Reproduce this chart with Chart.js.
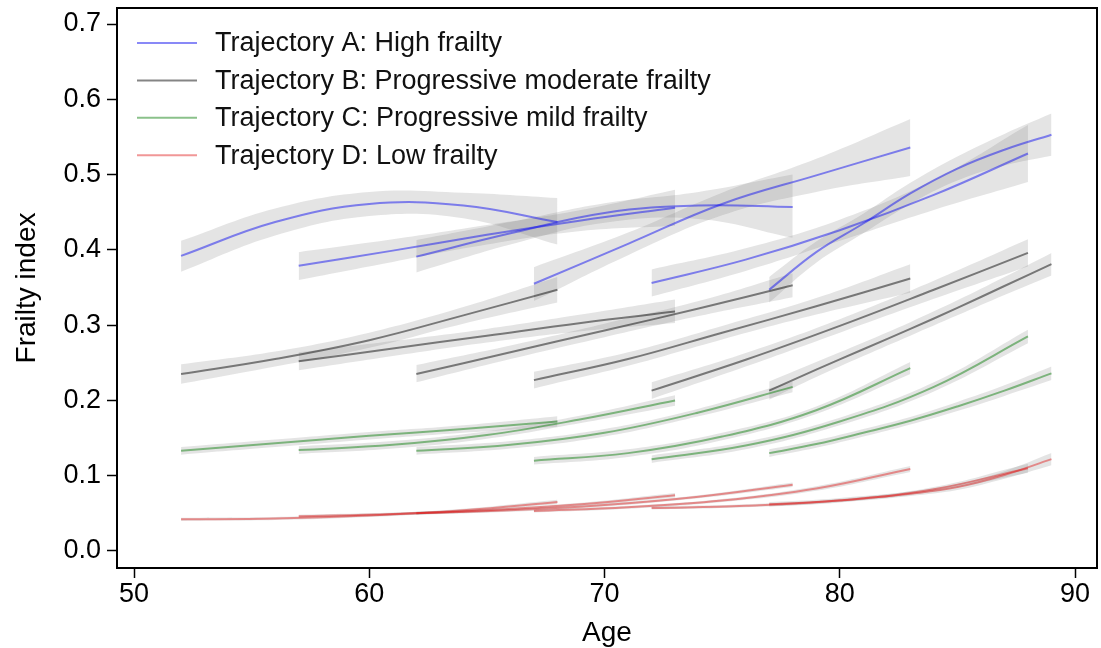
<!DOCTYPE html>
<html>
<head>
<meta charset="utf-8">
<script src="https://cdn.jsdelivr.net/npm/chart.js@4.4.1/dist/chart.umd.min.js"></script>
<style>
  html, body { margin: 0; padding: 0; background: #fff; }
  canvas { display: block; }
</style>
</head>
<body>
<canvas id="frailtyChart" width="1101" height="648"></canvas>
<script>
const cohortAges = [
    [52, 56, 60, 64, 68],
    [57, 61, 65, 69, 73],
    [62, 66, 70, 74, 78],
    [67, 71, 75, 79, 83],
    [72, 76, 80, 84, 88],
    [77, 79, 81, 83, 85, 87, 89]
];

const legendLabels = [
    'Trajectory A: High frailty',
    'Trajectory B: Progressive moderate frailty',
    'Trajectory C: Progressive mild frailty',
    'Trajectory D: Low frailty'
];

const xTicks = [50, 60, 70, 80, 90];
const yTicks = [0, 0.1, 0.2, 0.3, 0.4, 0.5, 0.6, 0.7];

// Trajectory A
const meanA = [
    [0.392, 0.437, 0.461, 0.459, 0.437],
    [0.379, 0.399, 0.420, 0.439, 0.456],
    [0.391, 0.422, 0.449, 0.459, 0.457],
    [0.355, 0.408, 0.461, 0.499, 0.536],
    [0.356, 0.387, 0.426, 0.473, 0.528],
    [0.347, 0.397, 0.435, 0.475, 0.508, 0.533, 0.553]
];
const lowA = [
    [0.371, 0.419, 0.445, 0.442, 0.407],
    [0.360, 0.384, 0.407, 0.425, 0.432],
    [0.370, 0.407, 0.436, 0.441, 0.416],
    [0.332, 0.393, 0.446, 0.477, 0.498],
    [0.338, 0.372, 0.412, 0.453, 0.490],
    [0.330, 0.383, 0.422, 0.461, 0.492, 0.512, 0.525]
];
const highA = [
    [0.412, 0.455, 0.477, 0.476, 0.469],
    [0.397, 0.414, 0.433, 0.453, 0.480],
    [0.413, 0.437, 0.462, 0.477, 0.500],
    [0.377, 0.423, 0.476, 0.521, 0.574],
    [0.374, 0.402, 0.440, 0.493, 0.566],
    [0.364, 0.411, 0.448, 0.489, 0.524, 0.554, 0.581]
];

// Trajectory B
const meanB = [
    [0.235, 0.255, 0.280, 0.313, 0.347],
    [0.252, 0.269, 0.286, 0.303, 0.318],
    [0.235, 0.264, 0.293, 0.322, 0.353],
    [0.227, 0.255, 0.290, 0.325, 0.362],
    [0.213, 0.254, 0.299, 0.347, 0.396],
    [0.213, 0.241, 0.268, 0.295, 0.323, 0.352, 0.381]
];
const lowB = [
    [0.222, 0.245, 0.270, 0.302, 0.330],
    [0.240, 0.259, 0.277, 0.292, 0.303],
    [0.224, 0.255, 0.284, 0.312, 0.337],
    [0.216, 0.246, 0.281, 0.314, 0.343],
    [0.202, 0.245, 0.290, 0.335, 0.378],
    [0.201, 0.231, 0.259, 0.286, 0.313, 0.340, 0.366]
];
const highB = [
    [0.248, 0.265, 0.290, 0.324, 0.364],
    [0.264, 0.279, 0.295, 0.314, 0.334],
    [0.247, 0.273, 0.302, 0.332, 0.369],
    [0.238, 0.264, 0.299, 0.336, 0.381],
    [0.224, 0.263, 0.308, 0.359, 0.414],
    [0.225, 0.251, 0.277, 0.304, 0.333, 0.364, 0.396]
];

// Trajectory C
const meanC = [
    [0.133, 0.143, 0.153, 0.162, 0.172],
    [0.134, 0.141, 0.154, 0.175, 0.200],
    [0.133, 0.141, 0.157, 0.184, 0.218],
    [0.120, 0.130, 0.152, 0.187, 0.243],
    [0.122, 0.140, 0.172, 0.218, 0.285],
    [0.130, 0.142, 0.157, 0.173, 0.192, 0.213, 0.236]
];
const lowC = [
    [0.128, 0.138, 0.148, 0.157, 0.165],
    [0.129, 0.136, 0.149, 0.170, 0.193],
    [0.128, 0.136, 0.152, 0.179, 0.211],
    [0.115, 0.125, 0.147, 0.182, 0.235],
    [0.117, 0.135, 0.167, 0.212, 0.276],
    [0.125, 0.137, 0.152, 0.168, 0.186, 0.206, 0.227]
];
const highC = [
    [0.138, 0.148, 0.158, 0.167, 0.179],
    [0.139, 0.146, 0.159, 0.180, 0.207],
    [0.138, 0.146, 0.162, 0.189, 0.225],
    [0.125, 0.135, 0.157, 0.192, 0.251],
    [0.127, 0.145, 0.177, 0.224, 0.294],
    [0.135, 0.147, 0.162, 0.178, 0.198, 0.220, 0.245]
];

// Trajectory D
const meanD = [
    [0.042, 0.043, 0.047, 0.054, 0.065],
    [0.046, 0.049, 0.054, 0.062, 0.074],
    [0.050, 0.054, 0.061, 0.072, 0.088],
    [0.053, 0.058, 0.067, 0.083, 0.109],
    [0.057, 0.060, 0.067, 0.082, 0.110],
    [0.062, 0.065, 0.070, 0.076, 0.085, 0.101, 0.122]
];
const lowD = [
    [0.040, 0.041, 0.045, 0.052, 0.062],
    [0.044, 0.047, 0.052, 0.060, 0.071],
    [0.048, 0.052, 0.059, 0.070, 0.085],
    [0.051, 0.056, 0.065, 0.080, 0.105],
    [0.055, 0.058, 0.065, 0.079, 0.104],
    [0.059, 0.062, 0.067, 0.073, 0.081, 0.096, 0.114]
];
const highD = [
    [0.044, 0.045, 0.049, 0.056, 0.068],
    [0.048, 0.051, 0.056, 0.064, 0.077],
    [0.052, 0.056, 0.063, 0.074, 0.091],
    [0.055, 0.060, 0.069, 0.086, 0.113],
    [0.059, 0.062, 0.069, 0.085, 0.116],
    [0.065, 0.068, 0.073, 0.079, 0.089, 0.106, 0.130]
];

const lineColors = [
    'rgba(20, 20, 240, 0.5)',
    'rgba(0, 0, 0, 0.48)',
    'rgba(0, 120, 0, 0.46)',
    'rgba(225, 25, 25, 0.45)'
];
const bandColor = 'rgba(120, 120, 120, 0.2)';
const fontFamily = '"Liberation Sans", Arial, Helvetica, sans-serif';

const trajectories = [
    { mean: meanA, low: lowA, high: highA },
    { mean: meanB, low: lowB, high: highB },
    { mean: meanC, low: lowC, high: highC },
    { mean: meanD, low: lowD, high: highD }
];

const toPoints = (ages, vals) => ages.map((x, i) => ({ x: x, y: vals[i] }));

const datasets = [];
trajectories.forEach((t, ti) => {
    cohortAges.forEach((ages, ci) => {
        // CI band: lower edge, then upper edge filled down to it
        datasets.push({
            data: toPoints(ages, t.low[ci]),
            borderWidth: 0, pointRadius: 0, fill: false, order: 1, tension: 0.4
        });
        datasets.push({
            data: toPoints(ages, t.high[ci]),
            borderWidth: 0, pointRadius: 0, fill: '-1', order: 1, tension: 0.4,
            backgroundColor: bandColor
        });
        datasets.push({
            data: toPoints(ages, t.mean[ci]),
            borderColor: lineColors[ti], borderWidth: 2,
            pointRadius: 0, fill: false, order: 0, tension: 0.4
        });
    });
});

// Frame around the plot region and the legend inside it
const frameAndLegend = {
    id: 'frameAndLegend',
    afterDraw(chart) {
        const { ctx, chartArea: a } = chart;
        ctx.save();
        ctx.strokeStyle = '#000';
        ctx.lineWidth = 2;
        ctx.strokeRect(a.left, a.top, a.right - a.left, a.bottom - a.top);

        ctx.font = '27px ' + fontFamily;
        ctx.textBaseline = 'middle';
        ctx.textAlign = 'left';
        legendLabels.forEach((txt, i) => {
            const y = a.top + 35 + i * 37.4;
            ctx.strokeStyle = lineColors[i];
            ctx.lineWidth = 2;
            ctx.beginPath();
            ctx.moveTo(a.left + 20, y);
            ctx.lineTo(a.left + 80, y);
            ctx.stroke();
            ctx.fillStyle = '#111';
            ctx.fillText(txt, a.left + 98, y + 1);
        });
        ctx.restore();
    }
};

// keep tick labels from pushing the plot region inwards
const noOverhang = s => {
    s.paddingTop = 0; s.paddingBottom = 0;
    s.paddingLeft = 0; s.paddingRight = 0;
};

new Chart(document.getElementById('frailtyChart'), {
    type: 'line',
    data: { datasets: datasets },
    plugins: [frameAndLegend],
    options: {
        responsive: false,
        animation: false,
        devicePixelRatio: 1,
        layout: { padding: { top: 8, right: 4, left: 0, bottom: 0 } },
        plugins: {
            legend: { display: false },
            tooltip: { enabled: false }
        },
        scales: {
            x: {
                type: 'linear',
                min: 49.277,
                max: 90.935,
                afterBuildTicks: s => { s.ticks = xTicks.map(v => ({ value: v })); },
                afterFit: s => { s.height = 80; noOverhang(s); },
                border: { display: false },
                grid: { drawOnChartArea: false, drawTicks: true, tickLength: 10, tickWidth: 1.5, tickColor: '#000' },
                ticks: { color: '#000', font: { family: fontFamily, size: 27 }, padding: 0, maxRotation: 0, autoSkip: false },
                title: { display: true, text: 'Age', color: '#000', font: { family: fontFamily, size: 28 }, padding: { top: 0, bottom: -2 } }
            },
            y: {
                min: -0.0226,
                max: 0.7213,
                afterBuildTicks: s => { s.ticks = yTicks.map(v => ({ value: v })); },
                afterFit: s => { s.width = 117; noOverhang(s); },
                border: { display: false },
                grid: { drawOnChartArea: false, drawTicks: true, tickLength: 10, tickWidth: 1.5, tickColor: '#000' },
                ticks: { color: '#000', font: { family: fontFamily, size: 27 }, padding: 6, callback: v => v.toFixed(1) },
                title: { display: true, text: 'Frailty index', color: '#000', font: { family: fontFamily, size: 28 }, padding: { top: 10, bottom: 0 } }
            }
        }
    }
});
</script>
</body>
</html>
